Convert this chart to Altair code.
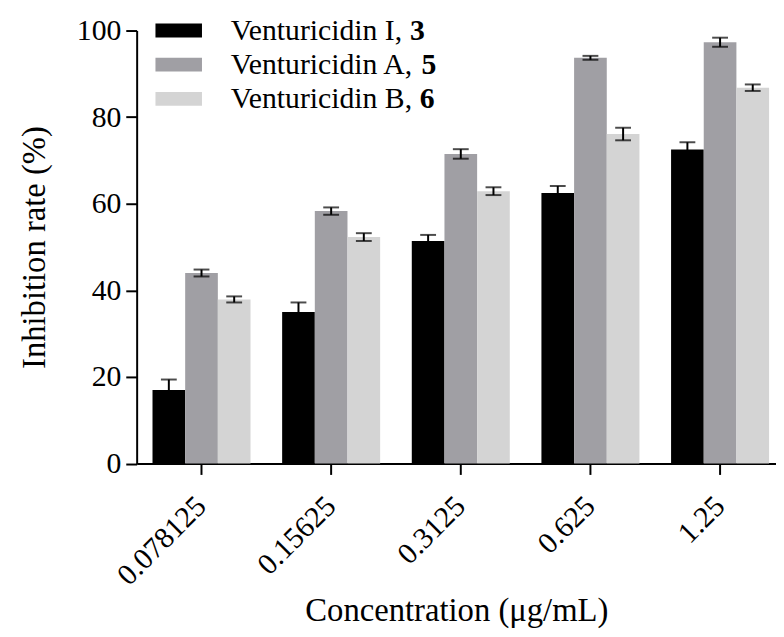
import altair as alt
import pandas as pd

CONC = ["0.078125", "0.15625", "0.3125", "0.625", "1.25"]
SERIES = ["Venturicidin I", "Venturicidin A", "Venturicidin B"]
SERIES_NUM = ["3", "5", "6"]
COLORS = ["#000000", "#a09fa4", "#d4d4d4"]

VAL_I = [17.0, 35.0, 51.4, 62.5, 72.5]
ERR_I = [2.4, 2.2, 1.4, 1.6, 1.7]
VAL_A = [44.0, 58.3, 71.5, 93.7, 97.3]
ERR_A = [0.8, 0.85, 1.1, 0.45, 1.05]
VAL_B = [37.9, 52.3, 62.9, 76.1, 86.8]
ERR_B = [0.7, 0.9, 0.9, 1.45, 0.75]

rows = []
for s, vals, errs in zip(SERIES, [VAL_I, VAL_A, VAL_B], [ERR_I, ERR_A, ERR_B]):
    for c, v, e in zip(CONC, vals, errs):
        rows.append({"conc": c, "series": s, "value": v, "err": e})
df = pd.DataFrame(rows)

FONT = "Liberation Serif, Times New Roman, serif"
LEG_FS = 30
CW = {"V": .722, "e": .444, "n": .5, "t": .278, "u": .5, "r": .333, "i": .278,
      "c": .444, "d": .5, " ": .25, "I": .333, "A": .722, "B": .667, ",": .25}
def tw(s):
    return sum(CW.get(ch, .5) for ch in s)

leg = pd.DataFrame({
    "series": SERIES,
    "label": [s + "," for s in SERIES],
    "num": SERIES_NUM,
    "idx": list(range(len(SERIES))),
})
LABEL_X = 95
leg["numx"] = [LABEL_X + LEG_FS * (tw(l) + 0.15) for l in leg["label"]]

AX_STYLE = dict(labelFont=FONT, labelFontSize=30, labelColor="black",
                titleFont=FONT, titleFontSize=33, titleColor="black",
                titleFontWeight="normal", domainColor="black", domainWidth=2,
                tickColor="black", tickWidth=2, tickSize=11, grid=False,
                labelOverlap=False, labelFlush=False)

x_enc = alt.X("conc:N", sort=CONC,
              scale=alt.Scale(paddingInner=0.244, paddingOuter=0.0878, align=0.696),
              axis=alt.Axis(title="Concentration (μg/mL)", labelAngle=-45,
                            labelAlign="right", labelBaseline="middle",
                            labelPadding=27, titlePadding=4, **AX_STYLE))
xo_enc = alt.XOffset("series:N", sort=SERIES,
                     scale=alt.Scale(paddingInner=0, paddingOuter=0))
y_scale = alt.Scale(domain=[0, 100], nice=False)

base = alt.Chart(df).encode(x=x_enc, xOffset=xo_enc)

bars = base.mark_bar().encode(
    y=alt.Y("value:Q", scale=y_scale,
            axis=alt.Axis(title="Inhibition rate (%)", values=[0, 20, 40, 60, 80, 100],
                          labelPadding=5, titlePadding=25, **AX_STYLE)),
    color=alt.Color("series:N", sort=SERIES,
                    scale=alt.Scale(domain=SERIES, range=COLORS), legend=None),
)

err = base.transform_calculate(
    lo="datum.value - datum.err", hi="datum.value + datum.err"
)
err_rule = err.mark_rule(color="black", strokeWidth=2).encode(
    y=alt.Y("lo:Q", scale=y_scale), y2="hi:Q")
cap_hi = err.mark_tick(color="black", size=16, thickness=2).encode(
    y=alt.Y("hi:Q", scale=y_scale))
cap_lo = err.mark_tick(color="black", size=16, thickness=2).encode(
    y=alt.Y("lo:Q", scale=y_scale))

legbase = alt.Chart(leg).transform_calculate(
    ry="datum.idx * 34.5 - 7", ry2="datum.idx * 34.5 + 7",
    ty="datum.idx * 34.5 + 9.5"
)
leg_rect = legbase.mark_rect().encode(
    x=alt.value(19), x2=alt.value(66),
    y=alt.Y("ry:Q", scale=None), y2="ry2:Q",
    color=alt.Color("series:N", sort=SERIES,
                    scale=alt.Scale(domain=SERIES, range=COLORS), legend=None),
)
leg_text = legbase.mark_text(font=FONT, fontSize=LEG_FS, align="left",
                             baseline="alphabetic", color="black").encode(
    x=alt.value(LABEL_X), y=alt.Y("ty:Q", scale=None), text="label:N")
leg_num = legbase.mark_text(font=FONT, fontSize=LEG_FS, align="left",
                            baseline="alphabetic", fontWeight="bold",
                            color="black").encode(
    x=alt.X("numx:Q", scale=None), y=alt.Y("ty:Q", scale=None), text="num:N")

chart = alt.layer(bars, err_rule, cap_hi, cap_lo, leg_rect, leg_text, leg_num).properties(
    width=646, height=437.5,
    padding={"left": 130, "top": 19.5, "right": 0, "bottom": 172},
    autosize=alt.AutoSizeParams(type="none"),
).configure_view(stroke=None).configure_axis(
    grid=False, labelFont=FONT, titleFont=FONT,
).configure_text(font=FONT)

chart.save("out.html", embed_options={"renderer": "svg", "actions": False})
